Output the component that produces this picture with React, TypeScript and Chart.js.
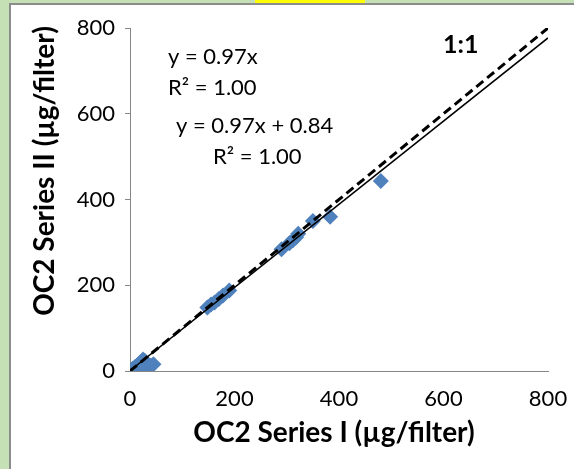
import React, { useEffect, useRef } from "react";
import { Chart, registerables } from "chart.js";

Chart.register(...registerables);

// Scatter data (OC2 Series I vs Series II, µg/filter)
const seriesIX = [0, 3, 5, 8, 10, 12, 15, 18, 20, 22, 25, 28, 30, 35, 40, 45, 20, 10,
  148, 155, 162, 170, 178, 190, 290, 305, 312, 318, 322, 350, 383, 480];
const seriesIIY = [0, 2, 5, 6, 10, 8, 14, 16, 20, 22, 27, 24, 15, 10, 12, 16, 4, 2,
  148, 155, 160, 168, 176, 188, 284, 298, 305, 312, 320, 350, 360, 443];

// Trendline (y = 0.97x + 0.84) and 1:1 line endpoints
const trendX = [0, 800];
const trendY = [0.84, 776.84];
const oneX = [0, 800];
const oneY = [0, 800];

const xTicks = [0, 200, 400, 600, 800];
const yTicks = [0, 200, 400, 600, 800];

const xTitle = "OC2 Series I (µg/filter)";
const yTitle = "OC2 Series II (µg/filter)";
const annotations = [
  { text: "y = 0.97x", x: 168, y: 57, bold: false, size: 22 },
  { text: "R² = 1.00", x: 168, y: 88, bold: false, size: 22 },
  { text: "y = 0.97x + 0.84", x: 176, y: 126, bold: false, size: 22 },
  { text: "R² = 1.00", x: 213, y: 157, bold: false, size: 22 },
  { text: "1:1", x: 443, y: 45, bold: true, size: 25 },
];

const FONT = "Lato, 'Open Sans', sans-serif";

export default function App() {
  const ref = useRef<HTMLCanvasElement | null>(null);
  useEffect(() => {
    document.body.style.margin = "0";
    const canvas = ref.current!;
    const bgPlugin = {
      id: "bg",
      beforeDraw(chart: any) {
        const ctx = chart.ctx;
        ctx.save();
        ctx.fillStyle = "#c5e0b4";
        ctx.fillRect(0, 0, chart.width, chart.height);
        ctx.fillStyle = "#ffff00";
        ctx.fillRect(255, 0, 110, 4);
        ctx.fillStyle = "#ffffff";
        ctx.fillRect(9, 3, chart.width - 9, chart.height - 3);
        ctx.fillStyle = "#8c8c8c";
        ctx.fillRect(9, 3, 2, chart.height - 3);
        ctx.fillRect(9, 3, chart.width - 9, 2);
        ctx.restore();
      },
      afterDraw(chart: any) {
        const ctx = chart.ctx;
        ctx.save();
        ctx.fillStyle = "#000";
        ctx.textBaseline = "middle";
        for (const a of annotations) {
          ctx.font = `${a.bold ? "bold " : ""}${a.size}px ${FONT}`;
          ctx.textAlign = "left";
          ctx.fillText(a.text, a.x, a.y);
        }
        ctx.font = `bold 28px ${FONT}`;
        ctx.textAlign = "center";
        ctx.fillText(xTitle, 334, 433);
        ctx.translate(45, 171);
        ctx.rotate(-Math.PI / 2);
        ctx.fillText(yTitle, 0, 0);
        ctx.restore();
      },
    };
    const chart = new Chart(canvas, {
      type: "scatter",
      data: {
        datasets: [
          {
            label: "1:1",
            type: "line",
            data: oneX.map((x, i) => ({ x, y: oneY[i] })),
            borderColor: "#000",
            borderWidth: 3,
            borderDash: [9, 5],
            pointRadius: 0,
            fill: false,
          },
          {
            label: "trend",
            type: "line",
            data: trendX.map((x, i) => ({ x, y: trendY[i] })),
            borderColor: "#000",
            borderWidth: 1.5,
            pointRadius: 0,
            fill: false,
          },
          {
            label: "OC2",
            data: seriesIX.map((x, i) => ({ x, y: seriesIIY[i] })),
            backgroundColor: "#4f81bd",
            borderWidth: 0,
            pointStyle: "rectRot",
            pointRadius: 8,
          },
        ],
      },
      options: {
        responsive: false,
        animation: false,
        devicePixelRatio: 1,
        layout: { padding: { left: 0, right: 26, top: 28, bottom: 0 } },
        plugins: { legend: { display: false }, tooltip: { enabled: false } },
        scales: {
          x: {
            type: "linear",
            min: 0,
            max: 800,
            afterBuildTicks: (s: any) => {
              s.ticks = xTicks.map((v) => ({ value: v }));
            },
            afterFit: (s: any) => {
              s.height = 98;
              s.paddingLeft = 0;
              s.paddingRight = 0;
            },
            ticks: { font: { family: FONT, size: 22 }, color: "#000", padding: 15 },
            grid: { display: true, drawOnChartArea: false, drawTicks: false, color: "#868686" },
            border: { display: true, color: "#868686", width: 1 },
          },
          y: {
            type: "linear",
            min: 0,
            max: 800,
            afterBuildTicks: (s: any) => {
              s.ticks = yTicks.map((v) => ({ value: v }));
            },
            afterFit: (s: any) => {
              s.width = 130;
              s.paddingTop = 0;
              s.paddingBottom = 0;
            },
            ticks: { font: { family: FONT, size: 22 }, color: "#000", padding: 10 },
            grid: { display: true, drawOnChartArea: false, drawTicks: true, tickLength: 5, color: "#868686" },
            border: { display: true, color: "#868686", width: 1 },
          },
        },
      },
      plugins: [bgPlugin],
    } as any);
    return () => chart.destroy();
  }, []);
  return (
    <div style={{ width: 574, height: 469 }}>
      <canvas ref={ref} width={574} height={469} style={{ display: "block" }} />
    </div>
  );
}
